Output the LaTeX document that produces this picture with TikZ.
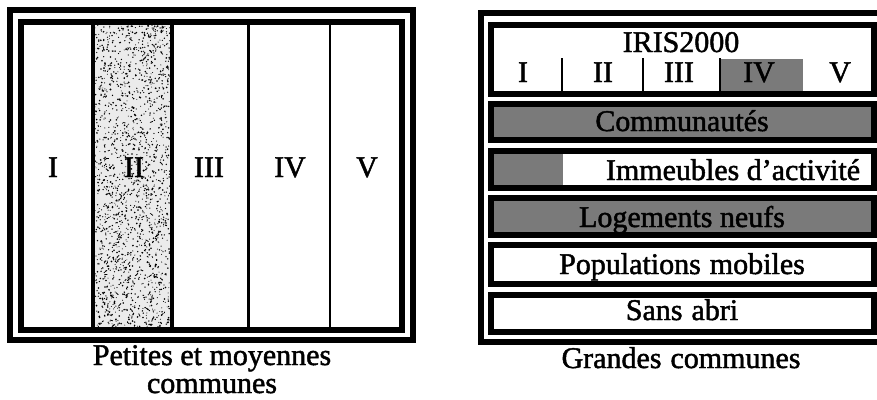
\documentclass[tikz,border=0pt]{standalone}
\usepackage{fontspec}
\newfontfamily\labelfont[FakeBold=1.6]{Liberation Serif}
\newcommand\wsp{\hspace{0.3em}}
\begin{document}
\begin{tikzpicture}[x=1pt,y=-1pt,
  frame/.style={line width=6pt},
  barbox/.style={draw,line width=6pt},
  shade/.style={fill=black!52},
  thickdiv/.style={line width=4pt},
  thindiv/.style={line width=2.8pt},
  lbl/.style={anchor=base,inner sep=0pt,font=\labelfont\fontsize{30}{36}\selectfont}]
\useasboundingbox (0,0) rectangle (877,399);
\fill[white] (0,0) rectangle (877,399);

% ---------- left panel: five columns, column II stippled ----------
\fill[black!8] (92,21) rectangle (172,330);
\pgfmathsetseed{42}
\foreach \i in {1,...,1700}
  \fill ({94+76*rnd},{24+303*rnd}) circle ({0.45pt+0.5pt*rnd});
\foreach \i in {1,...,140}
  \draw[line width=0.8pt] ({96+72*rnd},{26+299*rnd}) -- ++({6*rnd-3},{6*rnd-3});
\draw[frame] (10,10) rectangle (413,340);
\draw[frame] (20.5,21.5) rectangle (401.5,329.5);
\draw[thickdiv] (92.5,21.5) -- (92.5,329.5);
\draw[thickdiv] (172,21.5) -- (172,329.5);
\draw[thindiv] (248.5,21.5) -- (248.5,329.5);
\draw[thindiv] (330,21.5) -- (330,329.5);
\node[lbl] (l1) at (53,177) {I};
\node[lbl] (l2) at (134,177) {II};
\node[lbl] (l3) at (209,177) {III};
\node[lbl] (l4) at (290,177) {IV};
\node[lbl] (l5) at (367,177) {V};
\node[lbl] (capA) at (212,365) {Petites et moyennes};
\node[lbl] (capB) at (212,393) {communes};

% ---------- right panel: IRIS2000 box and the five bars ----------
\draw[frame] (890,13) -- (481,13) -- (481,341.5) -- (890,341.5);

\fill[shade] (721,59) rectangle (803,94);
\draw[barbox] (491,25) rectangle (873.5,94);
\draw[thindiv] (562,58) -- (562,94);
\draw[thindiv] (643,58) -- (643,94);
\draw[thindiv] (720,58) -- (720,94);
\node[lbl] (iris) at (681,52) {IRIS2000};
\node[lbl] (r1) at (523,82) {I};
\node[lbl] (r2) at (603,82) {II};
\node[lbl] (r3) at (679,82) {III};
\node[lbl] (r4) at (759,82) {IV};
\node[lbl] (r5) at (840,82) {V};

\draw[barbox,shade] (491,103.5) rectangle (873.5,140);
\node[lbl] (comm) at (682,131) {Communautés};

\fill[shade] (491,150.5) rectangle (563,187.5);
\draw[barbox] (491,150.5) rectangle (873.5,187.5);
\node[lbl] (imm) at (733,180) {Immeubles d’activité};

\draw[barbox,shade] (491,198) rectangle (873.5,235);
\node[lbl] (loge) at (682,227) {Logements neufs};

\draw[barbox] (491,245) rectangle (873.5,284);
\node[lbl] (pop) at (682,274) {Populations\wsp mobiles};

\draw[barbox] (491,295) rectangle (873.5,332);
\node[lbl] (sans) at (682,320) {Sans\wsp abri};

\node[lbl] (capC) at (681,368) {Grandes\wsp communes};
\end{tikzpicture}
\end{document}
